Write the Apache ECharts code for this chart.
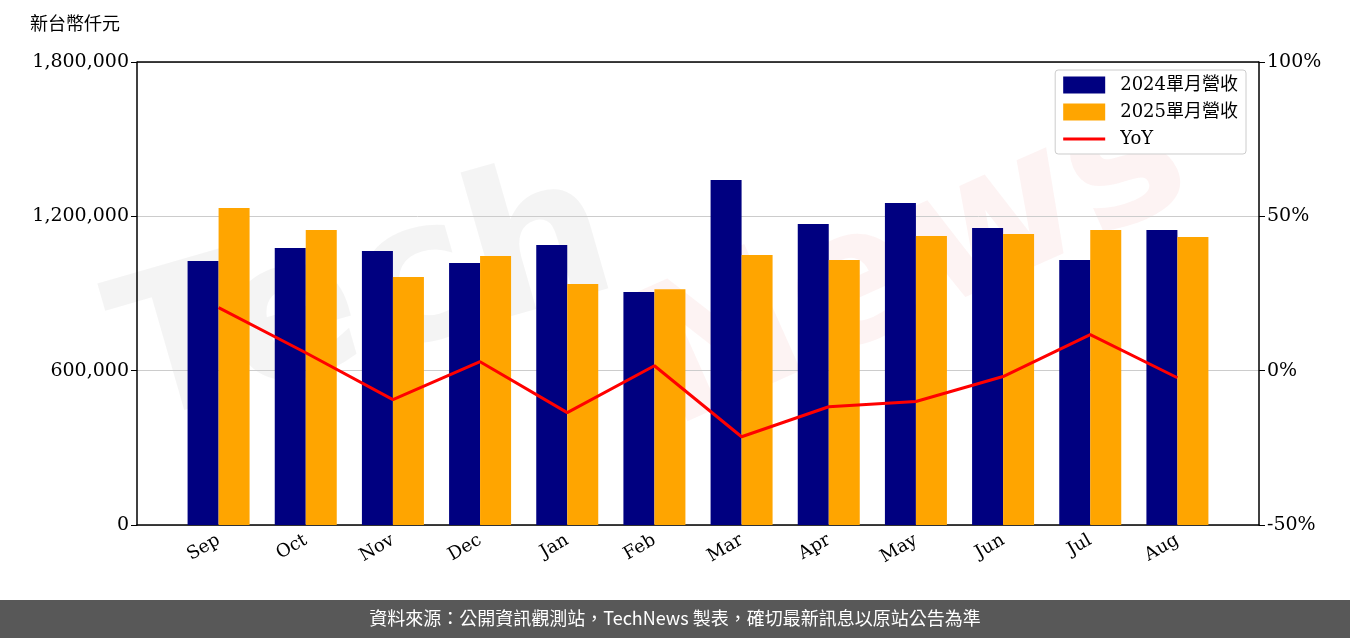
<!DOCTYPE html>
<html><head><meta charset="utf-8">
<script src="https://cdn.jsdelivr.net/npm/echarts@6/dist/echarts.min.js"></script>
<style>html,body{margin:0;padding:0;background:#fff}#c{width:1350px;height:638px}</style>
</head><body><div id="c"></div>
<script>
const categories=['Sep','Oct','Nov','Dec','Jan','Feb','Mar','Apr','May','Jun','Jul','Aug'];
const rev2024=[1026000,1077000,1065000,1019000,1089000,906000,1341000,1170000,1252000,1155000,1030000,1147000];
const rev2025=[1232000,1147000,964000,1046000,937000,917000,1050000,1030000,1124000,1131000,1147000,1120000];
const yoy=[20.4,5.8,-9.4,2.9,-13.6,1.6,-21.4,-11.7,-10.0,-1.9,11.7,-2.3];
const F='"DejaVu Serif","Noto Sans CJK TC",serif';
const chart=echarts.init(document.getElementById('c'));
chart.setOption({
 animation:false,
 textStyle:{fontFamily:F},
 grid:[{left:137,right:91,top:62,bottom:113},{left:175,right:129,top:62,bottom:113}],
 graphic:[
  {type:'text',left:30,top:14,style:{text:'新台幣仟元',font:'18px "Noto Sans CJK TC"',fill:'#000'}},
  {type:'text',x:150,y:470,rotation:0.28,style:{text:'Tech',font:'bold 200px "DejaVu Sans"',fill:'rgba(170,170,170,0.13)',textVerticalAlign:'bottom'},z:-1},
  {type:'text',x:690,y:470,rotation:0.42,style:{text:'News',font:'bold 190px "DejaVu Sans"',fill:'rgba(235,120,120,0.09)',textVerticalAlign:'bottom'},z:-1},
  {type:'line',shape:{x1:137,y1:62,x2:1259,y2:62},style:{stroke:'#000',lineWidth:1.5},z:10},
  {type:'rect',left:0,top:600,shape:{width:1350,height:38},style:{fill:'#585858'}},
  {type:'text',left:'center',top:609,style:{text:'資料來源：公開資訊觀測站，TechNews 製表，確切最新訊息以原站公告為準',font:'18px "Noto Sans CJK TC"',fill:'#fff'}}
 ],
 legend:{orient:'vertical',right:104,top:70,itemGap:9,itemWidth:42,itemHeight:17,
  borderColor:'#ccc',borderWidth:1,borderRadius:3,padding:[6,8,6,8],backgroundColor:'#fff',
  textStyle:{fontSize:18,fontFamily:F,color:'#000',padding:[0,0,0,10]},
  data:[{name:'2024單月營收',icon:'rect'},{name:'2025單月營收',icon:'rect'},{name:'YoY',icon:'path://M0,7h40v3h-40z'}]},
 xAxis:[
  {type:'category',gridIndex:0,data:[''],show:true,axisLine:{lineStyle:{color:'#000',width:1.5}},axisTick:{show:false},axisLabel:{show:false}},
  {type:'category',gridIndex:1,data:categories,
  axisLine:{show:false},axisTick:{show:false},
  axisLabel:{rotate:30,fontSize:18,color:'#000',fontFamily:F,margin:14}}],
 yAxis:[
  {type:'value',gridIndex:0,min:0,max:1800000,interval:600000,
   axisLine:{show:true,lineStyle:{color:'#000',width:1.5}},axisTick:{show:true,length:6,lineStyle:{color:'#000'}},
   splitLine:{lineStyle:{color:'#ccc'}},
   axisLabel:{fontSize:19,color:'#000',fontFamily:F,formatter:v=>v.toLocaleString('en-US')}},
  {type:'value',gridIndex:0,position:'right',min:-50,max:100,interval:50,
   axisLine:{show:true,lineStyle:{color:'#000',width:1.5}},axisTick:{show:true,length:6,lineStyle:{color:'#000'}},
   splitLine:{show:false},
   axisLabel:{fontSize:19,color:'#000',fontFamily:F,formatter:'{value}%'}},
  {type:'value',gridIndex:1,min:0,max:1800000,show:false,splitLine:{show:false}},
  {type:'value',gridIndex:1,min:-50,max:100,show:false,splitLine:{show:false}}
 ],
 series:[
  {name:'2024單月營收',type:'bar',xAxisIndex:1,yAxisIndex:2,data:rev2024,barWidth:31,barGap:'0%',itemStyle:{color:'#000080'}},
  {name:'2025單月營收',type:'bar',xAxisIndex:1,yAxisIndex:2,data:rev2025,barWidth:31,itemStyle:{color:'#FFA500'}},
  {name:'YoY',type:'line',xAxisIndex:1,yAxisIndex:3,data:yoy,symbol:'none',lineStyle:{color:'#FF0000',width:3},itemStyle:{color:'#FF0000'},z:5}
 ]
});
</script></body></html>
